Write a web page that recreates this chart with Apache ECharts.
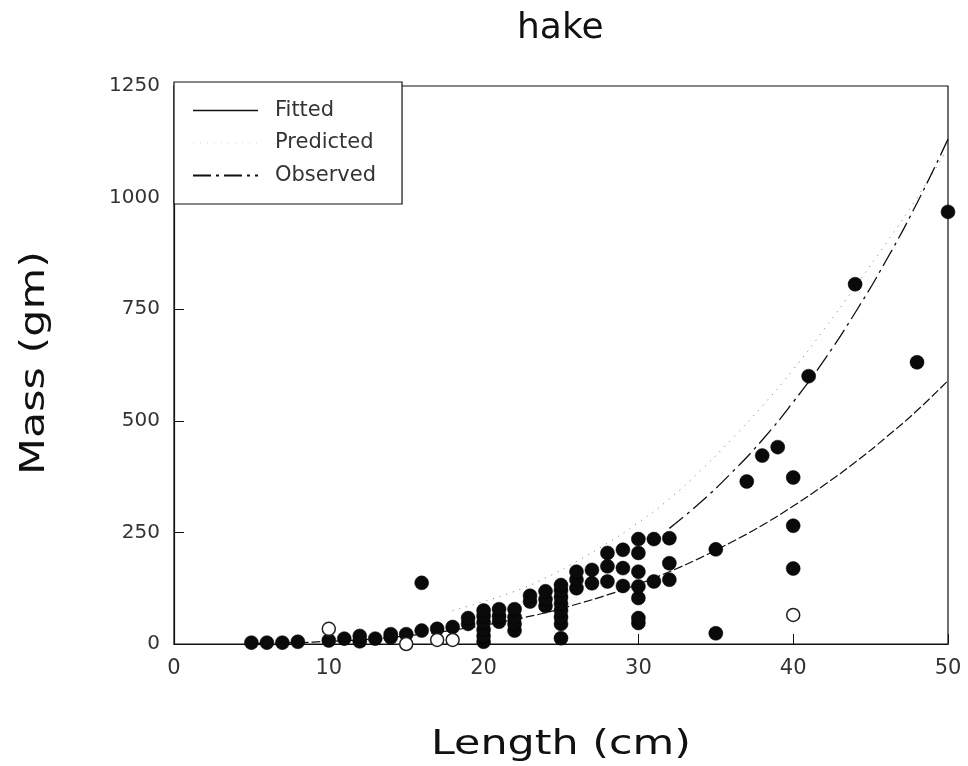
<!DOCTYPE html>
<html>
<head>
<meta charset="utf-8">
<script src="https://cdn.jsdelivr.net/npm/echarts@6/dist/echarts.min.js"></script>
<style>
    html, body { margin: 0; padding: 0; background: #fff; }
    #chart { width: 968px; height: 766px; }
</style>
</head>
<body>
<div id="chart"></div>
<script>
    // values
    const xTicks = [0, 10, 20, 30, 40, 50];
    const yTicks = [0, 250, 500, 750, 1000, 1250];

    // lower curve
    const fittedLen = [5, 8, 10, 12, 14, 16, 18, 20, 22, 24, 26, 28, 30, 32, 34, 36, 38, 40, 42, 44, 46, 48, 50];
    const fittedMass = [1, 3, 6, 9, 15, 22, 31, 42, 55, 70, 89, 110, 134, 162, 193, 228, 266, 309, 356, 407, 463, 523, 590];

    // faint dotted upper curve
    const predictedLen = [18, 20, 22, 24, 26, 28, 30, 32, 34, 36, 38, 40, 42, 44, 46, 48, 50];
    const predictedMass = [75, 95, 118, 148, 185, 226, 272, 325, 388, 458, 533, 615, 705, 800, 898, 1000, 1110];

    // dash-dot curve through the big fish
    const observedLen = [32, 34, 36, 38, 40, 42, 44, 46, 48, 50];
    const observedMass = [259, 317, 383, 457, 542, 636, 742, 859, 988, 1131];

    // measured fish, [length, mass]
    const fishFilled = [
        [5, 3], [6, 3], [7, 3], [8, 5], [10, 8], [11, 12], [12, 6], [12, 18], [13, 12], [14, 15], [14, 22],
        [15, 22], [16, 30], [16, 137], [17, 34], [18, 38], [19, 45], [19, 58],
        [20, 5], [20, 18], [20, 32], [20, 48], [20, 62], [20, 75],
        [21, 50], [21, 62], [21, 78], [22, 30], [22, 45], [22, 60], [22, 78],
        [23, 95], [23, 108], [24, 85], [24, 100], [24, 118],
        [25, 13], [25, 45], [25, 60], [25, 75], [25, 90], [25, 105], [25, 120], [25, 132],
        [26, 125], [26, 144], [26, 162], [27, 136], [27, 166],
        [28, 140], [28, 174], [28, 204], [29, 130], [29, 170], [29, 211],
        [30, 47], [30, 58], [30, 103], [30, 129], [30, 162], [30, 204], [30, 235],
        [31, 140], [31, 235], [32, 144], [32, 181], [32, 237],
        [35, 24], [35, 212], [37, 364], [38, 422], [39, 441],
        [40, 169], [40, 265], [40, 373], [41, 600], [44, 806], [48, 631], [50, 968]
    ];
    const fishOpen = [[10, 34], [15, 0], [17, 9], [18, 9], [40, 65]];

    const font = '"DejaVu Sans", sans-serif';
    const ink = '#111';

    function pairs(xs, ys) {
        return xs.map(function (x, i) { return [x, ys[i]]; });
    }

    const chart = echarts.init(document.getElementById('chart'));

    chart.setOption({
        backgroundColor: '#fff',
        animation: false,
        color: [ink, '#777', ink],
        title: {
            text: 'hake',
            left: 512,
            top: 6,
            textStyle: { fontFamily: font, fontSize: 36, fontWeight: 'normal', color: ink }
        },
        grid: {
            left: 174, right: 20, top: 86, bottom: 122,
            show: true, borderColor: ink, borderWidth: 1.2, backgroundColor: 'transparent'
        },
        legend: {
            orient: 'vertical',
            left: 174, top: 82,
            padding: [18, 26, 18, 18],
            itemWidth: 65, itemHeight: 14, itemGap: 11.5,
            backgroundColor: '#fff',
            borderColor: ink, borderWidth: 1.2,
            itemStyle: { opacity: 0 },
            textStyle: { fontFamily: font, fontSize: 21, color: '#333', padding: [0, 0, 0, 12] },
            data: [
                { name: 'Fitted', lineStyle: { type: 'solid', width: 1.4 } },
                { name: 'Predicted', lineStyle: { opacity: 0.15 } },
                { name: 'Observed' }
            ]
        },
        xAxis: {
            type: 'value', min: xTicks[0], max: xTicks[xTicks.length - 1], interval: 10,
            axisLine: { lineStyle: { color: ink, width: 1.2 } },
            axisTick: { inside: true, length: 10, lineStyle: { color: ink } },
            axisLabel: { fontFamily: font, fontSize: 21, color: '#333', margin: 14 },
            splitLine: { show: false }
        },
        yAxis: {
            type: 'value', min: yTicks[0], max: yTicks[yTicks.length - 1], interval: 250,
            axisLine: { show: true, lineStyle: { color: ink, width: 1.2 } },
            axisTick: { show: true, inside: true, length: 10, lineStyle: { color: ink } },
            axisLabel: {
                fontFamily: font, fontSize: 20, color: '#333', margin: 14,
                formatter: function (v) { return String(v); }
            },
            splitLine: { show: false }
        },
        graphic: [
            {
                type: 'text', x: 561, y: 745, scaleX: 1.26,
                style: {
                    text: 'Length (cm)', font: '34px ' + font, fill: ink,
                    align: 'center', verticalAlign: 'middle', textAlign: 'center', textVerticalAlign: 'middle'
                }
            },
            {
                type: 'text', x: 35, y: 363, rotation: Math.PI / 2, scaleX: 1.26,
                style: {
                    text: 'Mass (gm)', font: '34px ' + font, fill: ink,
                    align: 'center', verticalAlign: 'middle', textAlign: 'center', textVerticalAlign: 'middle'
                }
            }
        ],
        series: [
            {
                name: 'Fitted', type: 'line', smooth: true, symbol: 'none',
                lineStyle: { color: ink, width: 1.2, type: [9, 3] },
                data: pairs(fittedLen, fittedMass)
            },
            {
                name: 'Predicted', type: 'line', smooth: true, symbol: 'none',
                lineStyle: { color: '#777', width: 1, type: [1, 6] },
                data: pairs(predictedLen, predictedMass)
            },
            {
                name: 'Observed', type: 'line', smooth: true, symbol: 'none',
                lineStyle: { color: ink, width: 1.3, type: [18, 5, 3, 5] },
                data: pairs(observedLen, observedMass)
            },
            {
                name: 'fish', type: 'scatter', symbol: 'circle', symbolSize: 14, z: 5,
                itemStyle: { color: '#0a0a0a', borderColor: '#000', borderWidth: 0.5, opacity: 1 },
                data: fishFilled
            },
            {
                name: 'fish open', type: 'scatter', symbol: 'circle', symbolSize: 13, z: 5,
                itemStyle: { color: '#fff', borderColor: '#222', borderWidth: 1.5, opacity: 1 },
                data: fishOpen
            }
        ]
    });
</script>
</body>
</html>
